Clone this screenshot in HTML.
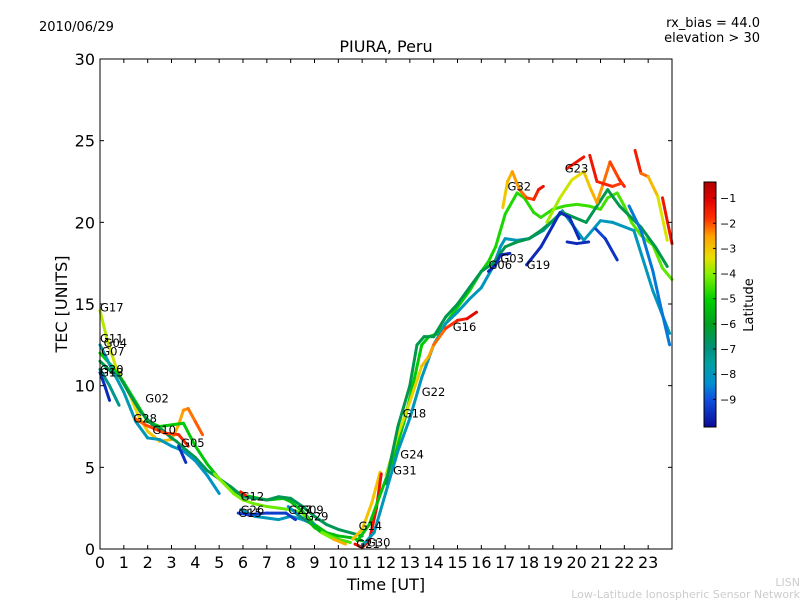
<!DOCTYPE html>
<html><head><meta charset="utf-8"><style>
body{margin:0;background:#fff;}
svg{display:block;font-family:"DejaVu Sans","Liberation Sans",sans-serif;}
</style></head><body>
<svg id="chart" width="800" height="600" viewBox="0 0 800 600" xmlns="http://www.w3.org/2000/svg">
<rect x="0" y="0" width="800" height="600" fill="#fff"/>
<text x="39" y="31" font-size="13">2010/06/29</text>
<text x="760" y="27" font-size="13" text-anchor="end">rx_bias = 44.0</text>
<text x="760" y="42" font-size="13" text-anchor="end">elevation &gt; 30</text>
<text x="386" y="52" font-size="16" text-anchor="middle">PIURA, Peru</text>
<g id="marks"></g>
<g id="labels"></g>
<rect x="100" y="59" width="572" height="490" fill="none" stroke="#000" stroke-width="1"/>
<g id="axes"></g>
<text x="386" y="590" font-size="16" text-anchor="middle">Time [UT]</text>
<text x="67" y="304" font-size="16" text-anchor="middle" transform="rotate(-90 67 304)">TEC [UNITS]</text>
<g id="cbar"></g>
<text x="753" y="305" font-size="13" text-anchor="middle" transform="rotate(-90 753 305)">Latitude</text>
<text x="800" y="586" font-size="11" fill="#ccc" text-anchor="end">LISN</text>
<text x="800" y="598" font-size="11" fill="#ccc" text-anchor="end">Low-Latitude Ionospheric Sensor Network</text>
</svg>
<script>
const xTicks=[0,1,2,3,4,5,6,7,8,9,10,11,12,13,14,15,16,17,18,19,20,21,22,23];
const yTicks=[0,5,10,15,20,25,30];
const cbarTicks=[-1,-2,-3,-4,-5,-6,-7,-8,-9];
const latMin=-10.1, latMax=-0.36;
const trackPoints=[
[[0,14.6],[0.3,12.8],[0.7,11],[1.2,9.6],[1.6,8.2],[2,7.2],[2.5,6.6],[3,6.7],[3.3,7.6],[3.5,8.5],[3.7,8.6],[4,7.8],[4.3,7]],
[[0,12],[0.5,11.2],[1,10.2],[1.5,9],[2,7.8],[2.5,7.5],[3,7.6],[3.5,7.7],[4,6.3],[4.5,5.2],[5,4.3],[5.5,3.6],[6,3.3],[7,3],[7.7,3.1],[8,2.9],[8.5,2.3],[9,1.5],[9.5,1],[10,0.8],[10.5,0.7],[11,0.5]],
[[0,11.5],[0.5,10.8],[0.8,10.6],[1.2,9.6],[1.7,8.4],[2.2,7.6],[2.6,7.3],[3,6.8],[3.2,6.6],[3.5,6.2],[4,5.6],[4.5,4.8],[5,4.3],[5.5,3.8],[6,3.2],[7,3],[7.5,3.2],[8,3.1],[8.5,2.6],[9,2],[9.5,1.5],[10,1.2],[10.5,1],[11,0.8]],
[[0,12.5],[0.5,11],[1,9.6],[1.5,7.8],[2,6.8],[2.5,6.7],[3,6.3],[3.5,6],[4,5.4],[4.5,4.5],[5,3.4]],
[[0,10.8],[0.2,10],[0.4,9.1]],
[[0,11],[0.4,10],[0.8,8.8]],
[[1.45,8],[1.9,7.6],[2.7,7.1],[3.3,7],[3.7,6.3]],
[[3.3,6.3],[3.6,5.3]],
[[4.8,4.6],[5.2,4],[5.6,3.4],[6,3],[6.4,2.8],[7,2.6],[7.5,2.5],[8,2.4],[8.5,2.2],[9,1.3],[9.5,0.9],[10,0.6],[10.5,0.4]],
[[5.9,2.4],[6.5,2],[7,1.9],[7.5,1.8],[8,2],[8.5,1.8],[9,1.5]],
[[5.8,2.2],[6.2,2.1],[7,2.2],[7.8,2.2],[8.2,1.8]],
[[5.9,3.5],[6.1,3.3]],
[[7.9,2.6],[8.3,2.1],[8.8,1.6],[9.3,1],[9.8,0.6],[10.3,0.3]],
[[10.6,0.6],[11,1.2],[11.4,2.8],[11.75,4.7]],
[[10.7,0.3],[11,0.1],[11.3,0.5],[11.6,2.5],[11.8,4.6]],
[[10.8,0.5],[11.3,1.5],[11.8,3.5],[12.3,5.5],[12.8,8],[13.2,10.5],[13.5,12.5],[13.8,13],[14.2,13.2],[14.5,13.8],[15,14.8],[15.5,15.8],[16,17],[16.3,17.6],[16.6,18.5],[17,20.5],[17.5,21.8],[17.8,21.5],[18.2,20.6],[18.5,20.3],[19,20.8],[19.5,21],[20,21.1],[20.5,21],[21,20.8],[21.3,21.5],[21.7,21.8],[22,21],[22.3,20],[22.7,19.2],[23.2,18.6],[23.6,17.2],[24,16.5]],
[[11,0.2],[11.5,1],[12,3.5],[12.5,6],[13,8],[13.5,10.5],[14,12.5],[14.5,13.8],[15,14.5],[15.5,15.3],[16,16],[16.5,17.3],[16.8,18.5],[17,19],[17.5,18.9],[18,19],[18.6,19.5],[19.4,20.7],[20,19.5],[20.3,18.9],[21,20.1],[21.5,20],[22.4,19.5],[23.2,15.8],[23.9,13.2]],
[[12,4.5],[12.5,7],[13,9],[13.5,11.2],[13.8,11.8],[14,12.5],[14.5,13.5],[15,14],[15.4,14.1],[15.8,14.5]],
[[12,4],[12.5,7.5],[13,10],[13.3,12.5],[13.6,13],[14,13],[14.5,14.2],[15,15],[15.5,16],[16,17],[16.5,17.5],[17,18.5],[17.5,18.8],[18,19],[18.5,19.5],[19.4,20.6],[20.4,20],[21.3,22],[21.8,21],[22.7,19.7],[23.3,18.5],[23.8,17.3]],
[[16.3,17],[16.6,17.4],[16.8,18],[17.2,18.1]],
[[17.9,17.4],[18.5,18.5],[19,19.8],[19.3,20.6],[19.7,20.3],[20.1,19]],
[[19.6,18.8],[20,18.7],[20.5,18.8]],
[[20.8,19.6],[21.2,19],[21.7,17.7]],
[[16.9,20.9],[17.1,22.5],[17.3,23.1],[17.6,22],[17.9,21.5],[18.2,21.4],[18.4,22],[18.6,22.2]],
[[18.75,20],[19.3,21.5],[19.8,22.6],[20.3,23.1],[20.6,22],[20.85,21.2],[21.1,22.3],[21.4,23.7],[21.8,22.6],[22,22.2]],
[[19.6,23.3],[20.3,24]],
[[20.55,24.1],[20.85,22.5],[21.5,22.2],[21.9,22.4]],
[[22.2,21],[22.7,19.5],[23.2,17],[23.5,15],[23.9,12.5]],
[[22.45,24.4],[22.7,23],[23,22.8],[23.4,21.6],[23.8,18.9]],
[[23.6,21.5],[24,18.7]]
];
const trackLatStart=[-3.8,-5,-6.4,-7.8,-9.6,-7.2,-2.2,-9.5,-4,-8,-9.3,-1.5,-9,-3,-1.3,-5.3,-8,-4,-6.5,-9.6,-9.6,-9.6,-9,-3.2,-4,-1.4,-1.3,-8.6,-1.2,-1];
const trackLatEnd=[-2,-5.5,-6.6,-8.2,-9.6,-7.2,-1.6,-9.5,-4.5,-8,-9.3,-1.5,-2,-3,-1.3,-4.3,-8,-1,-6.5,-9.6,-9.6,-9.6,-9.6,-1.2,-1.5,-1.4,-2,-8.6,-3.8,-1.8];
const labelNames=["G17","G11","G04","G07","G20","G13","G02","G28","G10","G05","G12","G26","G15","G27","G09","G29","G14","G21","G30","G31","G24","G18","G22","G16","G06","G03","G19","G32","G23"];
const labelHours=[0,0,0.15,0.05,0,0,1.9,1.4,2.2,3.4,5.9,5.9,5.8,7.9,8.4,8.6,10.85,10.75,11.2,12.3,12.6,12.7,13.5,14.8,16.3,16.8,17.9,17.1,19.5];
const labelTec=[14.8,12.9,12.6,12.1,11,10.8,9.2,8.0,7.3,6.5,3.2,2.4,2.2,2.4,2.4,2.0,1.4,0.3,0.4,4.8,5.8,8.3,9.6,13.6,17.4,17.8,17.4,22.2,23.3];
const X0=100,X1=672,Y0=549,Y1=59;
const xs=h=>X0+h*(X1-X0)/24;
const ys=v=>Y0-v*(Y0-Y1)/30;
const CB_TOP=182,CB_BOT=427,CB_X=704,CB_W=12;
const cs=l=>CB_BOT-(l-latMin)/(latMax-latMin)*(CB_BOT-CB_TOP);
const NS="http://www.w3.org/2000/svg";
const CMAP=[[0,[10,10,150]],[0.113,[16,80,224]],[0.18,[0,144,208]],[0.26,[0,160,160]],[0.32,[0,144,122]],[0.42,[0,160,32]],[0.52,[0,208,0]],[0.62,[128,240,0]],[0.69,[232,224,0]],[0.78,[255,160,0]],[0.85,[255,48,0]],[0.93,[224,0,0]],[1,[176,0,0]]];
function cmap(t){t=Math.max(0,Math.min(1,t));
  for(let i=0;i<CMAP.length-1;i++){const a=CMAP[i],b=CMAP[i+1];
    if(t<=b[0]){const f=(t-a[0])/(b[0]-a[0]);const c=a[1].map((v,k)=>Math.round(v+(b[1][k]-v)*f));return `rgb(${c[0]},${c[1]},${c[2]})`;}}
  return 'rgb(176,0,0)';}
const latColor=l=>cmap((l-latMin)/(latMax-latMin));
function mk(tag,attrs,parent){const e=document.createElementNS(NS,tag);for(const k in attrs)e.setAttribute(k,attrs[k]);parent.appendChild(e);return e;}
const marks=document.getElementById('marks');
trackPoints.forEach((pts,i)=>{
  const g=mk('g',{},marks);
  
  
  const n=pts.length;
  for(let j=0;j<n-1;j++){
    const f=(j+0.5)/Math.max(1,n-1);
    const lat=trackLatStart[i]+(trackLatEnd[i]-trackLatStart[i])*f;
    const s=mk('line',{x1:xs(pts[j][0]),y1:ys(pts[j][1]),x2:xs(pts[j+1][0]),y2:ys(pts[j+1][1]),stroke:latColor(lat),'stroke-width':3,'stroke-linecap':'round'},g);
    
    
  }
});
const labels=document.getElementById('labels');
labelNames.forEach((nm,i)=>{
  const t=mk('text',{x:xs(labelHours[i]),y:ys(labelTec[i])+4,'font-size':11.5},labels);
  t.textContent=nm;
  
  
});
const axes=document.getElementById('axes');
xTicks.forEach(h=>{
  const x=xs(h);
  const a=mk('line',{x1:x,y1:Y0,x2:x,y2:Y0-4,stroke:'#000'},axes);
  
  
  mk('line',{x1:x,y1:Y1,x2:x,y2:Y1+4,stroke:'#000'},axes);
  const t=mk('text',{x:x,y:568,'font-size':16,'text-anchor':'middle'},axes);
  t.textContent=h;
  
  
});
yTicks.forEach(v=>{
  const y=ys(v);
  const a=mk('line',{x1:X0,y1:y,x2:X0+4,y2:y,stroke:'#000'},axes);
  
  
  mk('line',{x1:X1,y1:y,x2:X1-4,y2:y,stroke:'#000'},axes);
  const t=mk('text',{x:95,y:y+6,'font-size':16,'text-anchor':'end'},axes);
  t.textContent=v;
  
  
});
const cbar=document.getElementById('cbar');
const defs=mk('defs',{},cbar);
const grad=mk('linearGradient',{id:'cmapg',x1:0,y1:1,x2:0,y2:0},defs);
CMAP.forEach(s=>{mk('stop',{offset:s[0],'stop-color':`rgb(${s[1][0]},${s[1][1]},${s[1][2]})`},grad);});
const cr=mk('rect',{x:CB_X,y:CB_TOP,width:CB_W,height:CB_BOT-CB_TOP,fill:'url(#cmapg)',stroke:'#000'},cbar);


cbarTicks.forEach(l=>{
  const y=cs(l);
  mk('line',{x1:CB_X+CB_W-3,y1:y,x2:CB_X+CB_W,y2:y,stroke:'#000'},cbar);
  const t=mk('text',{x:CB_X+CB_W+4,y:y+4,'font-size':11},cbar);
  t.textContent='\u2212'+Math.abs(l);
  
  
});
</script>
</body></html>
